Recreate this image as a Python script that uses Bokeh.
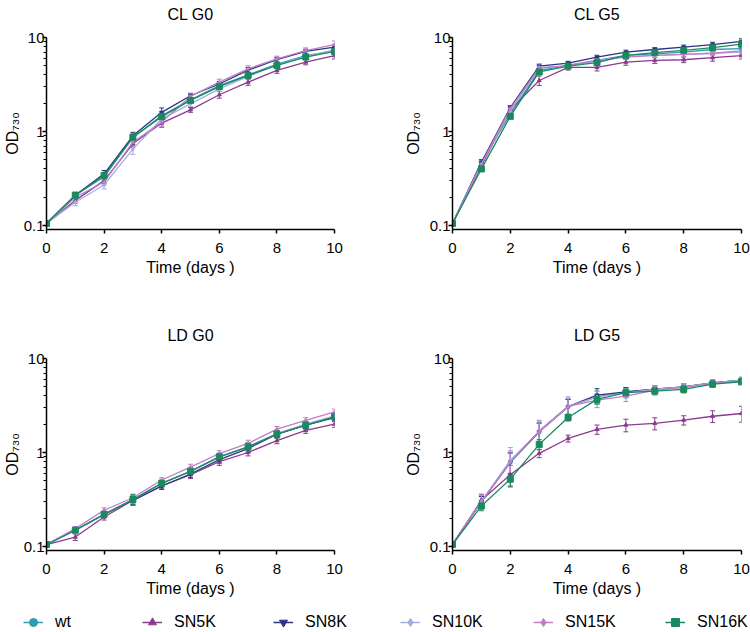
import numpy as np
from bokeh.plotting import figure
from bokeh.layouts import column, row
from bokeh.models import (Range1d, FixedTicker, Whisker, ColumnDataSource,
                          TeeHead, Legend, LegendItem, LinearAxis)
from bokeh.embed import file_html
from bokeh.resources import INLINE

FONT = "Liberation Sans"

days = [0, 1, 2, 3, 4, 5, 6, 7, 8, 9, 10]
series = ["wt", "SN5K", "SN8K", "SN10K", "SN15K", "SN16K"]
panel_titles = ["CL G0", "CL G5", "LD G0", "LD G5"]
x_ticks = [0, 2, 4, 6, 8, 10]
y_ticks = [0.1, 1, 10]
y_minor = [0.2, 0.3, 0.4, 0.5, 0.6, 0.7, 0.8, 0.9, 2, 3, 4, 5, 6, 7, 8, 9]
x_label = "Time (days )"
y_label = "OD\u2087\u2083\u2080"

colors = {"wt": "#2f9bb0", "SN5K": "#8a3b8f", "SN8K": "#2b3580",
          "SN10K": "#a3addf", "SN15K": "#c27cc9", "SN16K": "#1a8a5e"}
markers = {"wt": "circle", "SN5K": "triangle", "SN8K": "inverted_triangle",
           "SN10K": "diamond", "SN15K": "diamond", "SN16K": "square"}
msize = {"wt": 4, "SN5K": 4, "SN8K": 4, "SN10K": 4, "SN15K": 4, "SN16K": 6}
legend_x = {"wt": 23, "SN5K": 142, "SN8K": 273, "SN10K": 400, "SN15K": 533, "SN16K": 665}

# ---- CL G0 ----
CLG0_wt = [0.105, 0.21, 0.33, 0.86, 1.48, 2.17, 3.08, 4.0, 5.2, 6.4, 7.2]
CLG0_SN5K = [0.105, 0.185, 0.30, 0.74, 1.23, 1.70, 2.46, 3.35, 4.46, 5.47, 6.4]
CLG0_SN8K = [0.105, 0.21, 0.355, 0.90, 1.60, 2.40, 3.20, 4.50, 5.80, 7.10, 7.90]
CLG0_SN10K = [0.105, 0.177, 0.27, 0.65, 1.36, 1.97, 2.84, 3.85, 5.10, 6.30, 7.40]
CLG0_SN15K = [0.105, 0.20, 0.29, 0.77, 1.26, 2.36, 3.35, 4.64, 5.93, 7.25, 8.40]
CLG0_SN16K = [0.105, 0.21, 0.34, 0.87, 1.44, 2.14, 3.00, 3.95, 5.04, 6.20, 7.10]
CLG0_wt_err = [0.005, 0.015, 0.03, 0.07, 0.12, 0.12, 0.2, 0.25, 0.3, 0.35, 0.4]
CLG0_SN5K_err = [0.005, 0.012, 0.02, 0.06, 0.12, 0.1, 0.2, 0.25, 0.3, 0.35, 0.5]
CLG0_SN8K_err = [0.005, 0.015, 0.03, 0.08, 0.18, 0.15, 0.2, 0.3, 0.35, 0.4, 0.5]
CLG0_SN10K_err = [0.005, 0.015, 0.025, 0.08, 0.15, 0.12, 0.15, 0.2, 0.25, 0.3, 0.4]
CLG0_SN15K_err = [0.005, 0.01, 0.02, 0.06, 0.12, 0.15, 0.25, 0.35, 0.4, 0.5, 0.8]
CLG0_SN16K_err = [0.005, 0.012, 0.025, 0.07, 0.12, 0.1, 0.15, 0.2, 0.25, 0.3, 0.4]

# ---- CL G5 ----
CLG5_wt = [0.105, 0.47, 1.54, 4.46, 5.04, 5.70, 6.45, 6.70, 6.98, 7.45, 7.60]
CLG5_SN5K = [0.105, 0.43, 1.70, 3.49, 4.80, 4.80, 5.47, 5.70, 5.80, 6.10, 6.40]
CLG5_SN8K = [0.105, 0.47, 1.80, 4.96, 5.33, 6.17, 6.98, 7.45, 7.90, 8.40, 9.10]
CLG5_SN10K = [0.105, 0.45, 1.65, 4.80, 4.96, 5.60, 6.30, 6.45, 6.60, 6.80, 7.00]
CLG5_SN15K = [0.105, 0.45, 1.75, 4.70, 5.04, 5.70, 6.17, 6.45, 6.60, 6.80, 7.20]
CLG5_SN16K = [0.105, 0.40, 1.45, 4.30, 4.96, 5.40, 6.45, 6.90, 7.30, 7.80, 8.50]
CLG5_wt_err = [0.005, 0.03, 0.08, 0.3, 0.2, 0.3, 0.3, 0.3, 0.3, 0.3, 0.4]
CLG5_SN5K_err = [0.005, 0.03, 0.1, 0.4, 0.3, 0.4, 0.4, 0.4, 0.4, 0.5, 0.5]
CLG5_SN8K_err = [0.005, 0.03, 0.08, 0.25, 0.25, 0.3, 0.35, 0.35, 0.4, 0.5, 0.6]
CLG5_SN10K_err = [0.005, 0.03, 0.08, 0.3, 0.2, 0.3, 0.3, 0.3, 0.3, 0.3, 0.4]
CLG5_SN15K_err = [0.005, 0.03, 0.08, 0.3, 0.2, 0.3, 0.3, 0.3, 0.3, 0.3, 0.4]
CLG5_SN16K_err = [0.005, 0.02, 0.08, 0.25, 0.2, 0.3, 0.3, 0.3, 0.35, 0.4, 0.5]

# ---- LD G0 ----
LDG0_wt = [0.105, 0.149, 0.22, 0.316, 0.47, 0.63, 0.90, 1.15, 1.57, 1.95, 2.40]
LDG0_SN5K = [0.105, 0.126, 0.206, 0.31, 0.44, 0.58, 0.80, 1.00, 1.34, 1.72, 2.00]
LDG0_SN8K = [0.105, 0.149, 0.22, 0.31, 0.44, 0.59, 0.84, 1.10, 1.57, 1.95, 2.35]
LDG0_SN10K = [0.105, 0.149, 0.22, 0.316, 0.47, 0.63, 0.90, 1.15, 1.60, 2.00, 2.45]
LDG0_SN15K = [0.105, 0.155, 0.243, 0.33, 0.51, 0.70, 0.975, 1.25, 1.77, 2.20, 2.70]
LDG0_SN16K = [0.105, 0.149, 0.22, 0.316, 0.47, 0.63, 0.90, 1.15, 1.57, 1.95, 2.40]
LDG0_wt_err = [0.005, 0.008, 0.015, 0.03, 0.03, 0.05, 0.07, 0.1, 0.12, 0.15, 0.2]
LDG0_SN5K_err = [0.005, 0.01, 0.015, 0.03, 0.03, 0.05, 0.07, 0.08, 0.1, 0.12, 0.15]
LDG0_SN8K_err = [0.005, 0.008, 0.015, 0.035, 0.035, 0.05, 0.07, 0.1, 0.12, 0.15, 0.2]
LDG0_SN10K_err = [0.005, 0.008, 0.015, 0.03, 0.03, 0.05, 0.07, 0.1, 0.12, 0.15, 0.2]
LDG0_SN15K_err = [0.005, 0.008, 0.015, 0.03, 0.03, 0.05, 0.07, 0.1, 0.12, 0.15, 0.2]
LDG0_SN16K_err = [0.005, 0.008, 0.015, 0.04, 0.04, 0.06, 0.08, 0.12, 0.15, 0.18, 0.25]

# ---- LD G5 ----
LDG5_wt = [0.105, 0.30, 0.79, 1.66, 3.07, 3.90, 4.40, 4.72, 5.00, 5.50, 5.90]
LDG5_SN5K = [0.105, 0.31, 0.58, 0.98, 1.41, 1.76, 1.96, 2.04, 2.21, 2.43, 2.60]
LDG5_SN8K = [0.105, 0.30, 0.79, 1.66, 3.07, 4.07, 4.40, 4.72, 5.00, 5.50, 5.90]
LDG5_SN10K = [0.105, 0.30, 0.83, 1.66, 3.07, 3.90, 4.30, 4.72, 5.00, 5.50, 5.90]
LDG5_SN15K = [0.105, 0.30, 0.79, 1.70, 3.10, 3.60, 3.98, 4.60, 4.90, 5.40, 5.80]
LDG5_SN16K = [0.105, 0.27, 0.52, 1.22, 2.36, 3.67, 4.33, 4.50, 4.70, 5.34, 5.66]
LDG5_wt_err = [0.005, 0.04, 0.2, 0.4, 0.6, 0.6, 0.5, 0.4, 0.4, 0.4, 0.4]
LDG5_SN5K_err = [0.005, 0.05, 0.15, 0.1, 0.12, 0.2, 0.3, 0.3, 0.25, 0.35, 0.5]
LDG5_SN8K_err = [0.005, 0.04, 0.2, 0.4, 0.6, 0.7, 0.5, 0.4, 0.4, 0.4, 0.4]
LDG5_SN10K_err = [0.005, 0.05, 0.3, 0.5, 0.7, 0.6, 0.5, 0.4, 0.4, 0.4, 0.4]
LDG5_SN15K_err = [0.005, 0.05, 0.25, 0.5, 0.8, 0.6, 0.5, 0.4, 0.4, 0.4, 0.4]
LDG5_SN16K_err = [0.005, 0.03, 0.08, 0.15, 0.2, 0.4, 0.4, 0.4, 0.4, 0.4, 0.4]

g = globals()


def make_panel(key, title, left_border, right_border, top_border, bottom_border,
               frame_w, ylab_standoff):
    p = figure(frame_width=frame_w, frame_height=192, title=None,
               min_border_left=left_border, min_border_right=right_border,
               min_border_top=top_border, min_border_bottom=bottom_border,
               y_axis_type="log",
               x_range=Range1d(0, 10),
               y_range=Range1d(10 ** (-1 - 4 / 94), 10),
               toolbar_location=None, output_backend="svg")
    p.outline_line_color = None
    p.xgrid.visible = False
    p.ygrid.visible = False

    # panel title drawn as the label of a bare axis above the frame
    ta = LinearAxis(ticker=FixedTicker(ticks=[]), axis_label=title,
                    axis_line_color=None, major_tick_line_color=None,
                    minor_tick_line_color=None, major_tick_in=0, major_tick_out=0,
                    major_label_standoff=0, major_label_text_font_size="0px",
                    axis_label_standoff=15, axis_label_text_font=FONT,
                    axis_label_text_font_size="16px",
                    axis_label_text_font_style="normal",
                    axis_label_text_color="black")
    p.add_layout(ta, "above")

    for s in series:
        vals = np.array(g[f"{key}_{s}"])
        err = np.array(g[f"{key}_{s}_err"])
        c = colors[s]
        src = ColumnDataSource(dict(base=days, upper=vals + err, lower=vals - err))
        p.add_layout(Whisker(base="base", upper="upper", lower="lower", source=src,
                             line_color=c, line_width=1,
                             upper_head=TeeHead(size=5, line_color=c, line_width=1),
                             lower_head=TeeHead(size=5, line_color=c, line_width=1)))
        p.line(days, list(vals), line_color=c, line_width=1.3)
        p.scatter(days, list(vals), marker=markers[s], size=msize[s],
                  fill_color=c, line_color=c)

    xa = p.below[0]
    xa.ticker = FixedTicker(ticks=x_ticks)
    xa.axis_label = x_label
    ya = p.left[0]
    ya.ticker = FixedTicker(ticks=y_ticks, minor_ticks=y_minor)
    ya.major_label_overrides = {0.1: "0.1", 1: "1", 10: "10"}
    ya.axis_label = y_label
    for ax in (xa, ya):
        ax.axis_line_color = "black"
        ax.axis_line_width = 1.5
        ax.major_tick_line_color = "black"
        ax.major_tick_line_width = 1.5
        ax.major_tick_in = 0
        ax.major_tick_out = 4
        ax.major_label_text_font = FONT
        ax.major_label_text_font_size = "15px"
        ax.major_label_text_color = "black"
        ax.axis_label_text_font = FONT
        ax.axis_label_text_font_size = "16px"
        ax.axis_label_text_font_style = "normal"
        ax.axis_label_text_color = "black"
    xa.minor_tick_line_color = None
    xa.major_label_standoff = 9
    xa.axis_label_standoff = 3
    ya.minor_tick_line_color = "black"
    ya.minor_tick_line_width = 1
    ya.minor_tick_in = 0
    ya.minor_tick_out = 3
    ya.major_label_standoff = -2
    ya.axis_label_standoff = ylab_standoff
    return p


p1 = make_panel("CLG0", panel_titles[0], 46, 41, 37, 81, 288, 0)
p2 = make_panel("CLG5", panel_titles[1], 77, 9, 37, 81, 289, 5)
p3 = make_panel("LDG0", panel_titles[2], 46, 41, 48, 50, 288, 0)
p4 = make_panel("LDG5", panel_titles[3], 77, 9, 48, 50, 289, 5)

# legend strip
pl = figure(width=750, height=32, x_axis_type=None, y_axis_type=None,
            x_range=Range1d(0, 1), y_range=Range1d(0, 1),
            min_border=0, toolbar_location=None, output_backend="svg")
pl.outline_line_color = None
for s in series:
    c = colors[s]
    lr = pl.line(x=[-5, -4], y=[-5, -5], line_color=c, line_width=1.5)
    sr = pl.scatter(x=[-5], y=[-5], marker=markers[s], size=msize[s],
                    fill_color=c, line_color=c)
    leg = Legend(items=[LegendItem(label=s, renderers=[lr, sr])],
                 orientation="horizontal", location=(legend_x[s], 0),
                 glyph_width=20, glyph_height=20, label_standoff=12,
                 label_height=20, spacing=0, padding=0, margin=0,
                 border_line_color=None, background_fill_alpha=0,
                 label_text_font=FONT, label_text_font_size="16px",
                 label_text_color="black")
    pl.add_layout(leg)

layout = column(row(p1, p2), row(p3, p4), pl)

with open("out.html", "w") as f:
    f.write(file_html(layout, INLINE))
